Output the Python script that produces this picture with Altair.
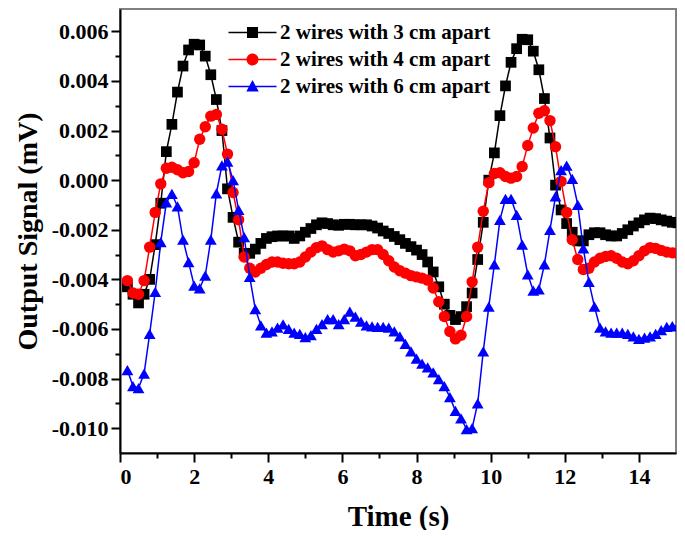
import altair as alt
import pandas as pd

# Time samples (s)
time_s = [
    0.2, 0.35, 0.5, 0.65, 0.8, 0.95, 1.1, 1.25, 1.4, 1.55,
    1.7, 1.85, 2.0, 2.15, 2.3, 2.45, 2.6, 2.75, 2.9, 3.05,
    3.2, 3.35, 3.5, 3.65, 3.8, 3.95, 4.1, 4.25, 4.4, 4.55,
    4.7, 4.85, 5.0, 5.15, 5.3, 5.45, 5.6, 5.75, 5.9, 6.05,
    6.2, 6.35, 6.5, 6.65, 6.8, 6.95, 7.1, 7.25, 7.4, 7.55,
    7.7, 7.85, 8.0, 8.15, 8.3, 8.45, 8.6, 8.75, 8.9, 9.05,
    9.2, 9.35, 9.5, 9.65, 9.8, 9.95, 10.1, 10.25, 10.4, 10.55,
    10.7, 10.85, 11.0, 11.15, 11.3, 11.45, 11.6, 11.75, 11.9, 12.05,
    12.2, 12.35, 12.5, 12.65, 12.8, 12.95, 13.1, 13.25, 13.4, 13.55,
    13.7, 13.85, 14.0, 14.15, 14.3, 14.45, 14.6, 14.75, 14.9, 15.05,
]

# Output signal values in units of 1e-3 mV
wires_3cm = [
    -4.3, -4.6, -4.95, -4.6, -4.0, -2.6, -0.93, 1.15, 2.25, 3.55,
    4.6, 5.25, 5.48, 5.45, 5.0, 4.25, 3.25, 2.0, -0.35, -1.5,
    -2.5, -2.95, -2.95, -2.78, -2.55, -2.35, -2.28, -2.25, -2.25, -2.25,
    -2.35, -2.25, -2.1, -1.95, -1.8, -1.72, -1.75, -1.8, -1.82, -1.78,
    -1.78, -1.8, -1.8, -1.8, -1.85, -1.93, -2.05, -2.15, -2.27, -2.4,
    -2.55, -2.68, -2.82, -3.0, -3.3, -3.7, -4.3, -5.0, -5.45, -5.62,
    -5.5, -5.1, -4.55, -3.2, -1.7, 0.0, 1.1, 2.6, 3.8, 4.75,
    5.3, 5.68, 5.66, 5.2, 4.45, 3.29, 1.7, -0.2, -1.2, -1.75,
    -2.1, -2.45, -2.45, -2.2, -2.12, -2.12, -2.2, -2.25, -2.25, -2.15,
    -2.0, -1.85, -1.72, -1.6, -1.53, -1.55, -1.6, -1.65, -1.7, -1.72,
]
wires_4cm = [
    -4.05, -4.55, -4.6, -4.05, -2.7, -1.3, -0.15, 0.48, 0.52, 0.42,
    0.3, 0.35, 0.7, 1.65, 2.15, 2.58, 2.65, 2.05, 1.05, -0.5,
    -1.6, -3.1, -3.55, -3.7, -3.55, -3.4, -3.3, -3.3, -3.35, -3.37,
    -3.37, -3.3, -3.1, -2.9, -2.72, -2.65, -2.8, -2.9, -2.85, -2.78,
    -2.85, -3.05, -3.0, -2.9, -2.8, -2.8, -3.0, -3.25, -3.5, -3.65,
    -3.75, -3.85, -3.9, -3.95, -4.03, -4.35, -4.9, -5.5, -6.1, -6.4,
    -6.25, -5.5, -4.1, -2.7, -1.25, -0.1, 0.27, 0.3, 0.15, 0.08,
    0.15, 0.55, 1.4, 2.1, 2.7, 2.8, 2.4, 1.35, -0.05, -1.3,
    -2.4, -3.2, -3.6, -3.55, -3.3, -3.15, -3.08, -3.05, -3.15, -3.3,
    -3.37, -3.25, -3.05, -2.85, -2.72, -2.75, -2.83, -2.9, -2.93, -2.95,
]
wires_6cm = [
    -7.66, -8.3, -8.38, -7.8, -6.2, -4.5, -2.5, -0.9, -0.55, -1.06,
    -2.4, -3.3, -4.25, -4.36, -3.85, -2.4, -0.53, 0.6, 0.75, 0.0,
    -1.2, -2.3, -3.9, -5.2, -5.85, -6.15, -6.1, -5.95, -5.81, -6.0,
    -6.15, -6.2, -6.33, -6.25, -6.0, -5.8, -5.6, -5.6, -5.8, -5.6,
    -5.3, -5.5, -5.7, -5.85, -5.9, -5.92, -5.92, -5.95, -6.1, -6.3,
    -6.6, -6.9, -7.2, -7.4, -7.55, -7.75, -8.02, -8.3, -8.75, -9.3,
    -9.6, -10.04, -10.0, -9.0, -6.9, -5.1, -3.4, -1.6, -0.75, -0.75,
    -1.4, -2.6, -3.8, -4.45, -4.4, -3.4, -2.0, -0.65, 0.4, 0.59,
    0.05, -1.0, -2.75, -4.1, -5.1, -5.95, -6.1, -6.15, -6.15, -6.15,
    -6.2, -6.3, -6.4, -6.35, -6.3, -6.2, -6.05, -5.92, -5.88, -5.9,
]

series_names = ["2 wires with 3 cm apart", "2 wires with 4 cm apart", "2 wires with 6 cm apart"]
series_values = [wires_3cm, wires_4cm, wires_6cm]
series_colors = ["#000000", "#ff0000", "#0000ff"]
series_shapes = ["square", "circle", "triangle-up"]
series_sizes = [115, 130, 140]

x_major = [0, 2, 4, 6, 8, 10, 12, 14]
x_minor = [1, 3, 5, 7, 9, 11, 13]
y_major = [-0.010, -0.008, -0.006, -0.004, -0.002, 0.0, 0.002, 0.004, 0.006]
y_minor = [-0.009, -0.007, -0.005, -0.003, -0.001, 0.001, 0.003, 0.005]

# legend symbols: line segment + marker (custom paths)
legend_paths = [
    "M-2.4,-0.08H2.4V0.08H-2.4Z M-0.55,-0.55H0.55V0.55H-0.55Z",
    "M-2.4,-0.08H2.4V0.08H-2.4Z M-0.6,0A0.6,0.6 0 1,1 0.6,0A0.6,0.6 0 1,1 -0.6,0Z",
    "M-2.4,-0.08H2.4V0.08H-2.4Z M0,-0.65L0.62,0.5H-0.62Z",
]

rows = []
for name, vals in zip(series_names, series_values):
    for t, v in zip(time_s, vals):
        rows.append({"t": t, "v": v * 1e-3, "series": name})
df = pd.DataFrame(rows)

FONT = "Liberation Serif"
xs = alt.Scale(domain=[0, 15], nice=False, zero=False)
ys = alt.Scale(domain=[-0.011, 0.0069], nice=False, zero=False)

layers = []
for name, color, shape, size in zip(series_names, series_colors, series_shapes, series_sizes):
    base = alt.Chart(df).transform_filter(alt.datum.series == name)
    enc = dict(
        x=alt.X("t:Q", scale=xs, axis=None),
        y=alt.Y("v:Q", scale=ys, axis=None),
    )
    layers.append(base.mark_line(color=color, strokeWidth=1.5, clip=True).encode(order="t:Q", **enc))
    layers.append(
        base.mark_point(shape=shape, filled=True, size=size, color=color, opacity=1, strokeWidth=0, clip=True).encode(**enc)
    )

empty = alt.Chart(df).transform_filter(alt.datum.t < -100)

label_minus = "replace(format(datum.value, '.3f'), '\u2212', '-')"

major_axes = empty.mark_point().encode(
    x=alt.X(
        "t:Q", scale=xs,
        axis=alt.Axis(
            orient="bottom", values=x_major, title="Time (s)", grid=False,
            labelFont=FONT, labelFontSize=22, labelFontWeight="bold", labelColor="black",
            labelPadding=4, tickSize=9, tickWidth=2, tickColor="black",
            domainColor="black", domainWidth=2,
            titleFont=FONT, titleFontSize=29, titleFontWeight="bold", titleColor="black",
            titlePadding=15,
        ),
    ),
    y=alt.Y(
        "v:Q", scale=ys,
        axis=alt.Axis(
            orient="left", values=y_major, title="Output Signal (mV)", grid=False,
            labelExpr=label_minus,
            labelFont=FONT, labelFontSize=22, labelFontWeight="bold", labelColor="black",
            labelPadding=3, tickSize=9, tickWidth=2, tickColor="black",
            domainColor="black", domainWidth=2,
            titleFont=FONT, titleFontSize=28, titleFontWeight="bold", titleColor="black",
            titlePadding=9,
        ),
    ),
)

minor_axes = empty.mark_point().encode(
    x=alt.X(
        "t:Q", scale=xs,
        axis=alt.Axis(orient="bottom", values=x_minor, title=None, labels=False, domain=False,
                      grid=False, tickSize=5, tickWidth=2, tickColor="black"),
    ),
    y=alt.Y(
        "v:Q", scale=ys,
        axis=alt.Axis(orient="left", values=y_minor, title=None, labels=False, domain=False,
                      grid=False, tickSize=5, tickWidth=2, tickColor="black"),
    ),
)

leg = alt.Legend(
    title=None, orient="none", legendX=122, legendY=13, padding=0,
    symbolSize=400, symbolStrokeWidth=0, rowPadding=5, labelOffset=17, labelLimit=0,
    labelFont=FONT, labelFontSize=21, labelFontWeight="bold", labelColor="black",
)
legend_layer = empty.mark_point(filled=True, size=400, opacity=1).encode(
    x=alt.X("t:Q", scale=xs, axis=None),
    y=alt.Y("v:Q", scale=ys, axis=None),
    color=alt.Color("series:N", scale=alt.Scale(domain=series_names, range=series_colors), legend=leg),
    shape=alt.Shape("series:N", scale=alt.Scale(domain=series_names, range=legend_paths), legend=leg),
)

chart = (
    alt.layer(minor_axes, major_axes, *layers, legend_layer)
    .resolve_axis(x="independent", y="independent")
    .properties(
        width=556, height=444,
        autosize=alt.AutoSizeParams(type="none"),
        padding={"left": 112, "top": 1, "right": 1, "bottom": 77},
    )
    .configure_view(stroke="#808080", strokeWidth=2)
    .configure_axis(grid=False)
)

chart.save("out.html", embed_options={"renderer": "svg", "actions": False})
